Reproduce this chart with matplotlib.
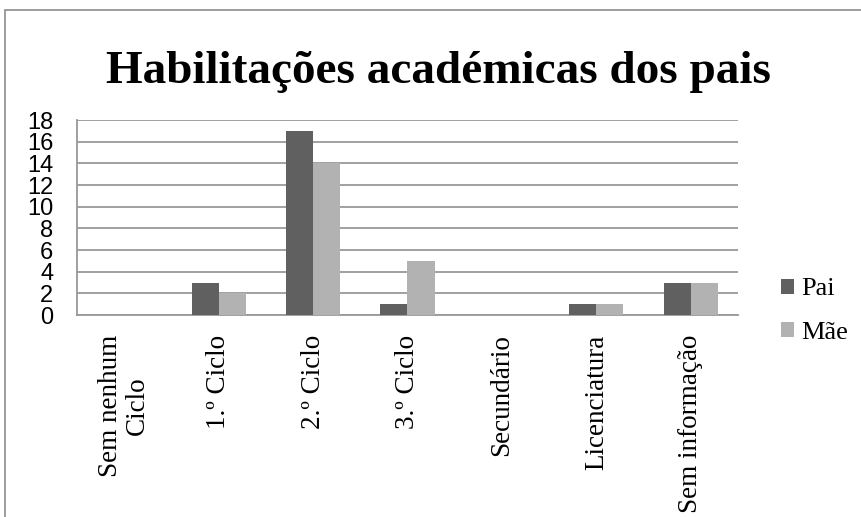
import matplotlib.pyplot as plt
import numpy as np
from matplotlib.patches import Rectangle

categories = ["Sem nenhum\nCiclo", "1.º Ciclo", "2.º Ciclo", "3.º Ciclo",
              "Secundário", "Licenciatura", "Sem informação"]
pai = [0, 3, 17, 1, 0, 1, 3]
mae = [0, 2, 14, 5, 0, 1, 3]
yticks = list(range(0, 19, 2))

serif = ["Liberation Serif", "DejaVu Serif"]

fig = plt.figure(figsize=(8.61, 5.17), dpi=100)
ax = fig.add_axes([77/861, 1-315/517, (738-77)/861, (315-120)/517])

# outer chart frame (cut at right and bottom)
fig.patches.append(Rectangle((5/861, -0.1), 1.2, 1.1 - 10/517, transform=fig.transFigure,
                             fill=False, edgecolor="#8c8c8c", linewidth=1.2))

x = np.arange(len(categories))
w = 0.286
ax.bar(x - w/2, pai, w, color="#606060", label="Pai", zorder=3)
ax.bar(x + w/2, mae, w, color="#b2b2b2", label="Mãe", zorder=3)

ax.set_xlim(-0.5, len(categories) - 0.5)
ax.set_ylim(0, 18)
ax.set_yticks(yticks)
ax.set_yticklabels([str(t) for t in yticks], family="Liberation Sans", fontsize=17)
ax.yaxis.grid(True, color="#999999", linewidth=1.3, zorder=0)
ax.tick_params(axis="y", length=0, pad=17)
ax.set_xticks(x)
ax.set_xticklabels(categories, rotation=90, family=serif, fontsize=19.5,
                   linespacing=1.1)
ax.tick_params(axis="x", length=0, pad=14)

for s in ["top", "right"]:
    ax.spines[s].set_visible(False)
for s in ["left", "bottom"]:
    ax.spines[s].set_color("#999999")
    ax.spines[s].set_linewidth(1.3)

fig.text(438/861, 1-72/517, "Habilitações académicas dos pais",
         ha="center", va="center", family=serif, fontweight="bold", fontsize=34)

ax.legend(loc="center left", bbox_to_anchor=(768/861, 1-311/517), bbox_transform=fig.transFigure,
          frameon=False, prop={"family": serif, "size": 19},
          handlelength=0.5, handleheight=0.5, handletextpad=0.25, labelspacing=0.8,
          borderpad=0)

fig.savefig("out.png", dpi=100)
